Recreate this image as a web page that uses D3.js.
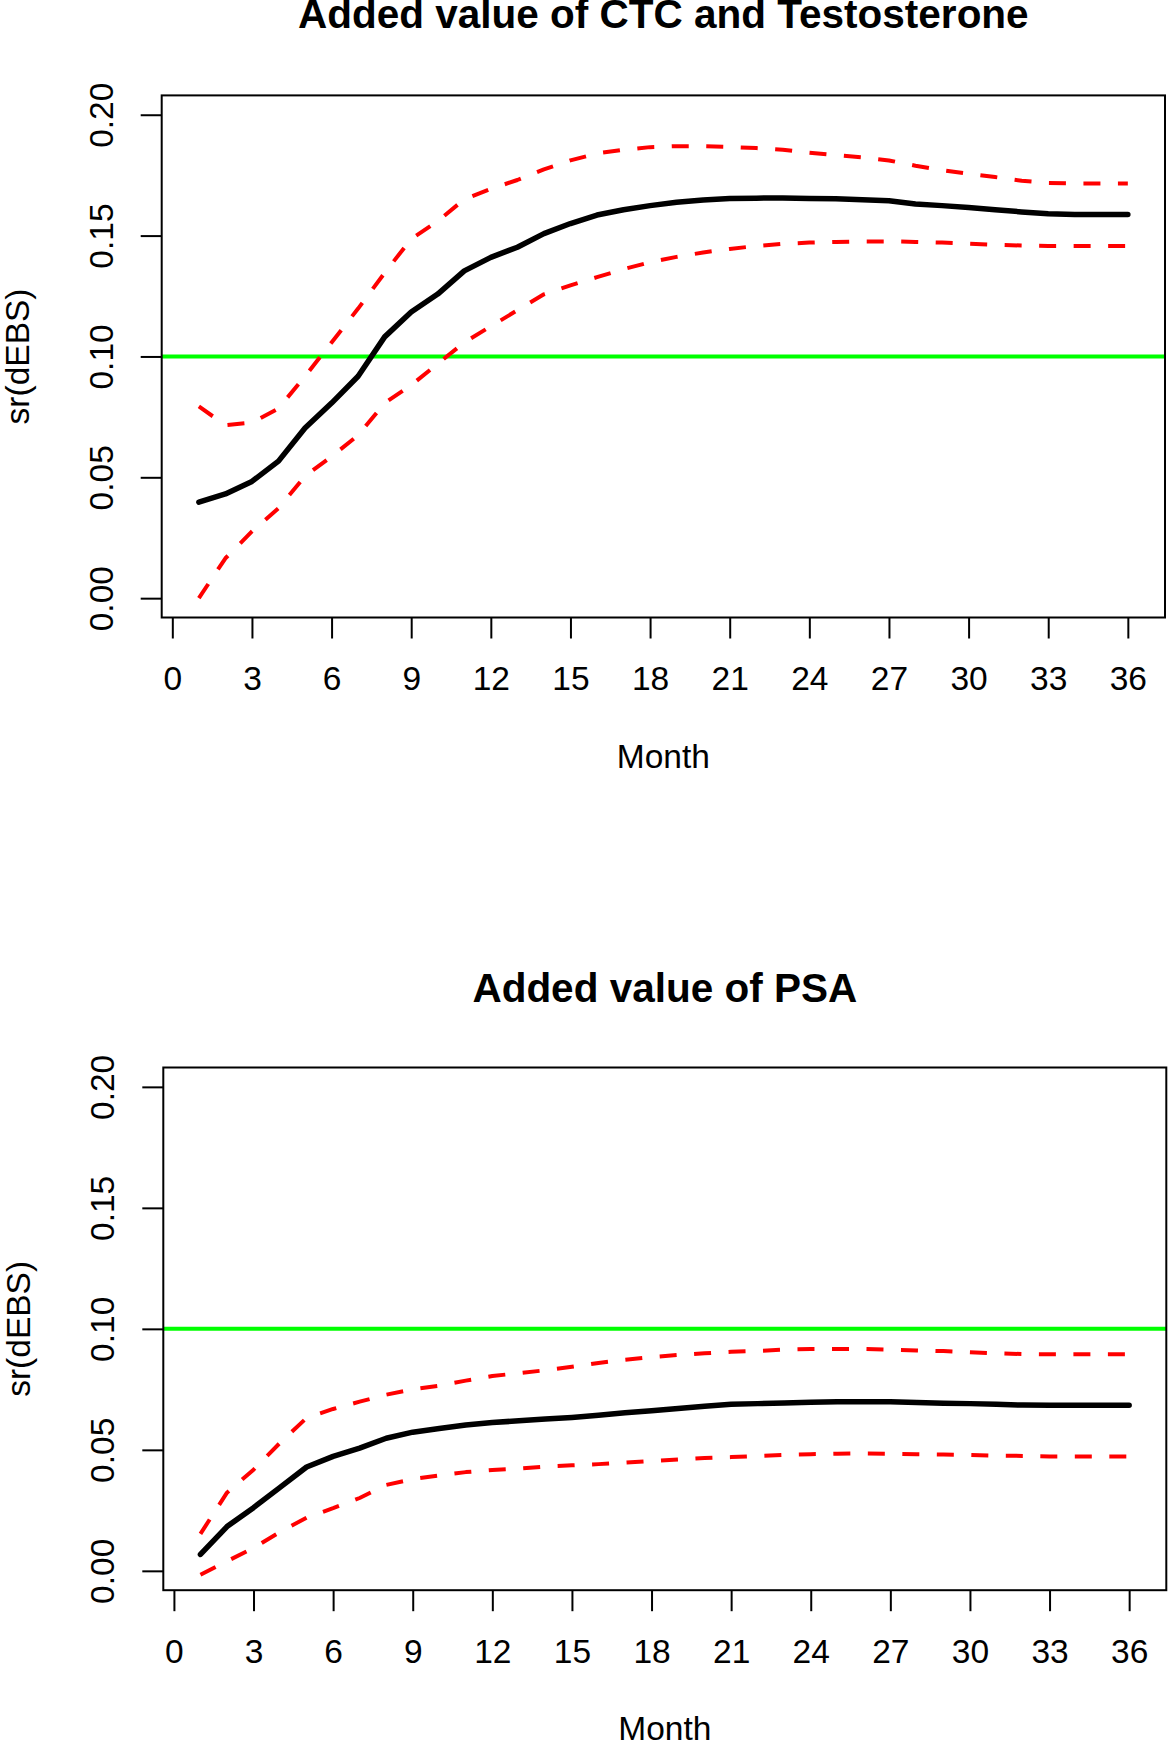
<!DOCTYPE html>
<html>
<head>
<meta charset="utf-8">
<script src="https://cdn.jsdelivr.net/npm/d3@7"></script>
<style>
  html, body { margin: 0; padding: 0; background: #fff; }
  svg { display: block; font-family: "Liberation Sans", Arial, Helvetica, sans-serif; }
</style>
</head>
<body>
<svg id="chart" width="1168" height="1742"></svg>
<script>
// ---------------- data ----------------
const months = [1,2,3,4,5,6,7,8,9,10,11,12,13,14,15,16,17,18,19,20,21,22,23,24,25,26,27,28,29,30,31,32,33,34,35,36];

const ctcEstimate = [0.0397,0.0431,0.0483,0.0567,0.0704,0.0807,0.0918,0.1081,0.1184,0.1258,0.1354,0.1410,0.1452,0.1508,0.1550,0.1585,0.1607,0.1624,0.1638,0.1647,0.1653,0.1655,0.1656,0.1653,0.1652,0.1648,0.1644,0.1631,0.1624,0.1616,0.1607,0.1598,0.1590,0.1587,0.1587,0.1587];
const ctcUpper    = [0.0793,0.0716,0.0726,0.0785,0.0918,0.1058,0.1198,0.1346,0.1486,0.1560,0.1650,0.1693,0.1730,0.1774,0.1811,0.1840,0.1855,0.1866,0.1870,0.1870,0.1867,0.1862,0.1855,0.1843,0.1833,0.1824,0.1811,0.1789,0.1771,0.1756,0.1742,0.1727,0.1718,0.1716,0.1716,0.1716];
const ctcLower    = [0.0000,0.0165,0.0276,0.0372,0.0505,0.0586,0.0674,0.0807,0.0881,0.0970,0.1058,0.1125,0.1191,0.1257,0.1294,0.1328,0.1361,0.1390,0.1412,0.1430,0.1445,0.1457,0.1466,0.1471,0.1474,0.1476,0.1476,0.1474,0.1471,0.1467,0.1462,0.1459,0.1457,0.1457,0.1457,0.1457];

const psaEstimate = [0.0068,0.0183,0.0261,0.0345,0.0429,0.0473,0.0507,0.0548,0.0573,0.0588,0.0603,0.0613,0.0620,0.0627,0.0634,0.0643,0.0653,0.0662,0.0671,0.0680,0.0688,0.0691,0.0694,0.0697,0.0699,0.0699,0.0699,0.0696,0.0693,0.0691,0.0688,0.0685,0.0684,0.0684,0.0684,0.0684];
const psaUpper    = [0.0153,0.0323,0.0418,0.0529,0.0632,0.0669,0.0699,0.0728,0.0750,0.0765,0.0786,0.0805,0.0817,0.0829,0.0843,0.0859,0.0872,0.0883,0.0892,0.0899,0.0905,0.0909,0.0914,0.0917,0.0917,0.0917,0.0914,0.0911,0.0908,0.0903,0.0899,0.0896,0.0895,0.0895,0.0895,0.0895];
const psaLower    = [-0.0016,0.0040,0.0094,0.0161,0.0220,0.0259,0.0301,0.0355,0.0379,0.0394,0.0408,0.0417,0.0423,0.0431,0.0436,0.0441,0.0447,0.0454,0.0460,0.0466,0.0470,0.0475,0.0479,0.0482,0.0484,0.0485,0.0484,0.0482,0.0481,0.0479,0.0476,0.0475,0.0473,0.0473,0.0473,0.0473];

const xTicks = [0,3,6,9,12,15,18,21,24,27,30,33,36];
const yTicks = [0.00,0.05,0.10,0.15,0.20];
const threshold = 0.10;
const titles = ["Added value of CTC and Testosterone", "Added value of PSA"];
const xLabel = "Month";
const yLabel = "sr(dEBS)";

// ---------------- layout ----------------
const panels = [
  { title: titles[0], est: ctcEstimate, up: ctcUpper, lo: ctcLower,
    left: 161.7, right: 1165.0, top: 95.4, bottom: 617.5, titleGap: 67 },
  { title: titles[1], est: psaEstimate, up: psaUpper, lo: psaLower,
    left: 163.3, right: 1166.3, top: 1067.5, bottom: 1590.2, titleGap: 65.8 }
];

const svg = d3.select("#chart");
svg.append("rect").attr("width", 1168).attr("height", 1742).attr("fill", "#fff");

const AXIS_FS = 33.5;
const TITLE_FS = 40.5;

panels.forEach(p => {
  const x = d3.scaleLinear().domain([-0.4, 37.4]).range([p.left, p.right]);
  const y = d3.scaleLinear().domain([-0.008, 0.208]).range([p.bottom, p.top]);
  const g = svg.append("g");

  const clipId = "clip" + Math.round(p.top);
  svg.append("clipPath").attr("id", clipId)
    .append("rect").attr("x", p.left).attr("y", p.top)
    .attr("width", p.right - p.left).attr("height", p.bottom - p.top);

  const plot = g.append("g").attr("clip-path", `url(#${clipId})`);

  // green threshold line
  plot.append("line")
    .attr("x1", p.left).attr("x2", p.right)
    .attr("y1", y(threshold)).attr("y2", y(threshold))
    .attr("stroke", "#00ff00").attr("stroke-width", 4);

  const line = d3.line().x((d, i) => x(months[i])).y(d => y(d));

  [p.up, p.lo].forEach(arr => {
    plot.append("path").datum(arr)
      .attr("d", line)
      .attr("fill", "none")
      .attr("stroke", "#ff0000")
      .attr("stroke-width", 4)
      .attr("stroke-dasharray", "17,17.5")
      .attr("stroke-linejoin", "round");
  });

  plot.append("path").datum(p.est)
    .attr("d", line)
    .attr("fill", "none")
    .attr("stroke", "#000")
    .attr("stroke-width", 5.5)
    .attr("stroke-linejoin", "round")
    .attr("stroke-linecap", "round");

  // box
  g.append("rect")
    .attr("x", p.left).attr("y", p.top)
    .attr("width", p.right - p.left).attr("height", p.bottom - p.top)
    .attr("fill", "none").attr("stroke", "#000").attr("stroke-width", 2);

  // x axis
  const xa = g.append("g").attr("transform", `translate(0,${p.bottom})`)
    .call(d3.axisBottom(x).tickValues(xTicks).tickSize(21).tickFormat(d3.format("d")));
  xa.select(".domain").remove();
  xa.selectAll(".tick line").attr("stroke", "#000").attr("stroke-width", 2);
  xa.selectAll(".tick text")
    .attr("y", 72.5).attr("dy", "0")
    .attr("fill", "#000")
    .style("font-size", AXIS_FS + "px")
    .style("font-family", '"Liberation Sans", Arial, Helvetica, sans-serif');

  // y axis
  const ya = g.append("g").attr("transform", `translate(${p.left},0)`)
    .call(d3.axisLeft(y).tickValues(yTicks).tickSize(21).tickFormat(d3.format(".2f")));
  ya.select(".domain").remove();
  ya.selectAll(".tick line").attr("stroke", "#000").attr("stroke-width", 2);
  ya.selectAll(".tick text")
    .attr("x", 0).attr("y", 0).attr("dy", "0")
    .attr("text-anchor", "middle")
    .attr("transform", "translate(-49,0) rotate(-90)")
    .attr("fill", "#000")
    .style("font-size", AXIS_FS + "px")
    .style("font-family", '"Liberation Sans", Arial, Helvetica, sans-serif');

  // axis titles
  const cx = (p.left + p.right) / 2;
  const cy = (p.top + p.bottom) / 2;
  g.append("text")
    .attr("x", cx).attr("y", p.bottom + 150)
    .attr("text-anchor", "middle")
    .style("font-size", AXIS_FS + "px")
    .text(xLabel);

  g.append("text")
    .attr("transform", `translate(${p.left - 133},${cy}) rotate(-90)`)
    .attr("text-anchor", "middle")
    .style("font-size", AXIS_FS + "px")
    .text(yLabel);

  // main title
  g.append("text")
    .attr("x", cx).attr("y", p.top - p.titleGap)
    .attr("text-anchor", "middle")
    .style("font-size", TITLE_FS + "px")
    .style("font-weight", "bold")
    .text(p.title);
});
</script>
</body>
</html>
